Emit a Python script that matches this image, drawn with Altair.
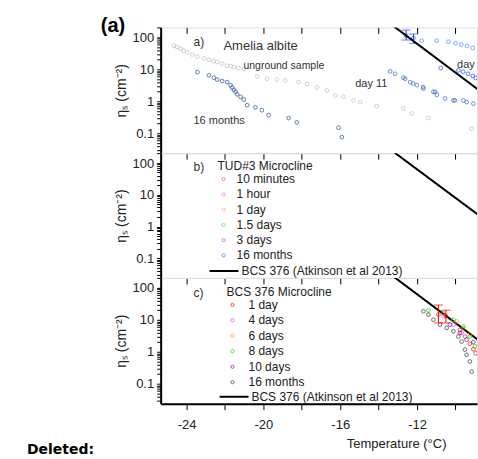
import altair as alt
import pandas as pd

FONT = "Liberation Sans"
X_DOMAIN = [-25.35, -8.88]
Y_DOMAIN = [0.024, 205]
X_TICKS = [-24, -22, -20, -18, -16, -14, -12, -10]
Y_TICKS = [0.03, 0.04, 0.05, 0.06, 0.07, 0.08, 0.09, 0.1,
           0.2, 0.3, 0.4, 0.5, 0.6, 0.7, 0.8, 0.9, 1,
           2, 3, 4, 5, 6, 7, 8, 9, 10,
           20, 30, 40, 50, 60, 70, 80, 90, 100, 200]
Y_LABELS = ["0.1", "1", "10", "100"]

# ---------------- panel a : Amelia albite ----------------
A_UNG_T = [-24.66, -24.5, -24.31, -24.15, -23.97, -23.7, -23.44, -23.1, -22.84, -22.6,
           -22.41, -22.15, -21.89, -21.7, -21.54, -21.3, -21.02, -20.33, -19.81, -19.3,
           -18.86, -18.17, -17.73, -17.21, -16.69, -16.26, -15.83, -15.31, -14.96, -14.10,
           -12.71, -12.28, -11.41, -9.16]
A_UNG_NS = [55, 50, 44, 38, 34, 29, 25, 22, 20, 18,
            17, 15, 13, 12.5, 11.7, 11, 10.4, 6.0, 5.1, 4.8,
            4.5, 4.0, 3.5, 2.7, 2.2, 1.5, 1.4, 1.07, 0.95, 0.71,
            0.60, 0.42, 0.30, 0.14]
A_16M_T = [-23.44, -22.84, -22.58, -22.41, -22.15, -21.89, -21.71, -21.63, -21.54, -21.45,
           -21.37, -21.19, -21.02, -20.85, -20.42, -20.08, -19.73, -18.69, -18.26, -16.09, -15.92]
A_16M_NS = [8.2, 6.5, 5.5, 4.8, 4.3, 4.0, 3.2, 2.7, 2.3, 2.0,
            1.66, 1.38, 1.14, 0.76, 0.65, 0.53, 0.37, 0.30, 0.22, 0.15, 0.076]
A_D11_T = [-13.40, -13.14, -12.71, -12.62, -12.36, -12.2, -12.01, -11.69, -11.67, -11.15,
           -11.06, -10.97, -10.54, -10.11, -10.03, -9.59, -9.42, -9.07]
A_D11_NS = [8.7, 7.3, 5.5, 5.1, 4.0, 3.6, 3.2, 2.8, 2.5, 2.0,
            1.96, 1.6, 1.23, 1.07, 1.07, 1.07, 0.95, 0.85]
A_D1_T = [-11.76, -10.98, -10.37, -10.0, -9.7, -9.4, -9.1]
A_D1_NS = [79, 79, 73, 66, 60, 54, 47]
A_ERR_T = [-12.57, -12.19]
A_ERR_NS = [113, 96]
A_ERR_LO = [83, 65]
A_ERR_HI = [170, 127]
A_D3_T = [-10.77, -9.85, -9.6, -9.35, -9.1, -8.95]
A_D3_NS = [11, 9.3, 8.5, 7.3, 6.2, 5.4]
A_TXT = ["a)", "Amelia albite", "unground sample", "day 11", "16 months", "day 1"]
A_TXT_T = [-23.64, -22.08, -21.04, -15.22, -23.64, -9.92]
A_TXT_NS = [73, 55, 12.3, 3.4, 0.24, 14]
A_TXT_FS = [12, 13, 10.5, 11, 11, 11]

# ---------------- reference line (BCS 376, Atkinson et al 2013) ----------------
REF_T = [-13.4, -8.8]
REF_NS = [270, 2.3]
REF_LABEL = "BCS 376 (Atkinson et al 2013)"

# ---------------- panel b : TUD#3 Microcline ----------------
B_SERIES = ["10 minutes", "1 hour", "1 day", "1.5  days", "3 days", "16 months"]
B_COLORS = ["#ff5a5a", "#ff5aff", "#ffaa55", "#55dd55", "#aa55aa", "#5a5aff"]

# ---------------- panel c : BCS 376 Microcline ----------------
C_SERIES = ["1 day", "4 days", "6 days", "8 days", "10 days", "16 months"]
C_COLORS = ["#ff0000", "#ff33ff", "#ff8c1a", "#00dd00", "#8000a0", "#333333"]
C_1D_T = [-10.89, -10.5, -9.77, -9.5, -9.25, -9.07, -8.95]
C_1D_NS = [14.6, 13, 4.8, 3.0, 1.8, 1.2, 0.9]
C_4D_T = [-10.63, -10.11, -9.68]
C_4D_NS = [13, 7.1, 3.9]
C_6D_T = [-9.94, -9.59, -9.25]
C_6D_NS = [8.9, 6.3, 3.5]
C_8D_T = [-11.41, -10.63, -10.11, -9.59, -9.25, -8.99]
C_8D_NS = [20, 16, 10, 5.6, 3.0, 1.5]
C_10D_T = [-10.29, -9.77, -9.42, -9.07]
C_10D_NS = [7.1, 3.9, 2.4, 2.0]
C_16M_T = [-11.67, -11.41, -11.15, -10.81, -10.46, -10.11, -9.85, -9.68, -9.51, -9.42, -9.25, -9.16]
C_16M_NS = [18.5, 14.6, 10.1, 7.1, 5.6, 4.4, 3.0, 2.1, 1.17, 0.81, 0.50, 0.24]
C_ERR_T = [-10.89, -10.5]
C_ERR_LO = [8, 8]
C_ERR_HI = [29, 20]

# ---------------- scales / axes ----------------
xs = alt.Scale(domain=X_DOMAIN, nice=False, zero=False)
ys = alt.Scale(type="log", domain=Y_DOMAIN, nice=False)

yaxis = alt.Axis(
    values=Y_TICKS,
    labelExpr="indexof(" + str(Y_LABELS) + ", '' + datum.value) >= 0 ? '' + datum.value : ''",
    labelOverlap=False, tickSize=4, tickWidth=1, tickColor="black",
    domainColor="black", domainWidth=2, labelFontSize=13, labelPadding=3,
    labelFont=FONT, labelColor="#222",
    title="ηₛ (cm⁻²)", titleFont=FONT, titleFontSize=14, titleFontWeight="normal",
    titleColor="#222", titlePadding=4, grid=False,
)
top_axis = alt.Axis(orient="top", values=X_TICKS, offset=-6, tickSize=6, tickColor="black",
                    labels=False, domain=False, title=None, grid=False)
bot_ticks = alt.Axis(orient="bottom", values=X_TICKS, tickSize=6, tickColor="black",
                     labels=False, domain=False, title=None, grid=False)
bot_full = alt.Axis(orient="bottom", values=X_TICKS, tickSize=6, tickColor="black",
                    labelExpr="datum.value % 4 == 0 ? '' + datum.value : ''",
                    labelOverlap=False, labelFont=FONT, labelFontSize=13, labelPadding=9,
                    labelColor="#222", domain=True, domainColor="black", domainWidth=2,
                    title="Temperature (°C)", titleFont=FONT, titleFontSize=13,
                    titleFontWeight="normal", titleColor="#222", titleX=236, titlePadding=6,
                    grid=False)


def X(axis):
    return alt.X("T:Q", scale=xs, axis=axis)


def Y(field="ns"):
    return alt.Y(field + ":Q", scale=ys, axis=yaxis)


def pts(T, ns, color, axis=None, size=14):
    df = pd.DataFrame({"T": T, "ns": ns})
    return alt.Chart(df).mark_point(filled=False, size=size, strokeWidth=1, clip=True,
                                    color=color).encode(x=X(axis), y=Y())


def errbars(T, lo, hi, color, axis=None):
    df = pd.DataFrame({"T": T, "lo": lo, "hi": hi})
    base = alt.Chart(df)
    rule = base.mark_rule(color=color, strokeWidth=1, clip=True).encode(
        x=X(axis), y=Y("lo"), y2="hi:Q")
    t1 = base.mark_tick(color=color, orient="horizontal", size=9, thickness=1, clip=True).encode(
        x=X(axis), y=Y("lo"))
    t2 = base.mark_tick(color=color, orient="horizontal", size=9, thickness=1, clip=True).encode(
        x=X(axis), y=Y("hi"))
    return [rule, t1, t2]


def ref_line(axis, legend):
    df = pd.DataFrame({"T": REF_T, "ns": REF_NS, "ref": [REF_LABEL] * len(REF_T)})
    enc = dict(x=X(axis), y=Y(), color=alt.value("black"))
    if legend is not None:
        enc["strokeDash"] = alt.StrokeDash("ref:N", scale=alt.Scale(domain=[REF_LABEL], range=[[1, 0]]),
                                           legend=legend)
    return alt.Chart(df).mark_line(strokeWidth=2, clip=True).encode(**enc)


def line_legend(lx, ly):
    return alt.Legend(orient="none", legendX=lx, legendY=ly, title=None, symbolType="stroke",
                      symbolSize=841, symbolStrokeWidth=2, symbolStrokeColor="black",
                      labelFont=FONT, labelFontSize=12, labelColor="#222", labelOffset=2,
                      labelLimit=400, padding=0)


def color_legend(title, lx, ly, label_offset, title_pad, row_pad):
    return alt.Legend(orient="none", legendX=lx, legendY=ly, title=title, titleFont=FONT,
                      titleFontSize=12, titleFontWeight="normal", titleColor="#222",
                      titlePadding=title_pad, titleLimit=400, labelFont=FONT, labelFontSize=12,
                      labelColor="#222", labelLimit=400,
                      labelOffset=label_offset, rowPadding=row_pad, symbolSize=10,
                      symbolType="circle", symbolStrokeWidth=1, padding=0)


def texts(labels, T, ns, fs, axis=None, color="#333"):
    df = pd.DataFrame({"T": T, "ns": ns, "label": labels, "fs": fs})
    return alt.Chart(df).mark_text(font=FONT, align="left", baseline="middle", color=color,
                                   clip=True).encode(
        x=X(axis), y=Y(), text="label:N", size=alt.Size("fs:Q", scale=None, legend=None))


# ---------------- panel a ----------------
corner = alt.Chart(pd.DataFrame({"label": ["(a)"]})).mark_text(
    font=FONT, fontSize=20, fontWeight="bold", align="left", baseline="alphabetic",
    color="black").encode(x=alt.value(-60), y=alt.value(5), text="label:N")

panel_a = alt.layer(
    pts(A_UNG_T, A_UNG_NS, "#bdbdbd", axis=top_axis),
    pts(A_16M_T, A_16M_NS, "#1b4a8c", axis=bot_ticks),
    pts(A_D11_T, A_D11_NS, "#2a62b8"),
    pts(A_D1_T, A_D1_NS, "#3b8cff"),
    pts(A_D3_T, A_D3_NS, "#1f3cff"),
    pts(A_ERR_T, A_ERR_NS, "#2a40ee"),
    *errbars(A_ERR_T, A_ERR_LO, A_ERR_HI, "#2a40ee"),
    ref_line(None, None),
    texts(A_TXT, A_TXT_T, A_TXT_NS, A_TXT_FS),
    corner,
).resolve_axis(x="independent").properties(width=317, height=126)

# ---------------- panel b ----------------
empty_b = alt.Chart(alt.InlineData(values=[])).mark_point(filled=False, size=10, clip=True).encode(
    x=X(bot_ticks), y=Y(),
    color=alt.Color("series:N", scale=alt.Scale(domain=B_SERIES, range=B_COLORS),
                    legend=color_legend("TUD#3 Microcline", 57, 8, 7, 0, 3.3)))

panel_b = alt.layer(
    ref_line(bot_ticks, line_legend(48, 102.5)),
    empty_b,
    texts(["b)"], [-23.64], [74], [12], axis=bot_ticks),
).properties(width=317, height=125)

# ---------------- panel c ----------------
c_T = C_1D_T + C_4D_T + C_6D_T + C_8D_T + C_10D_T + C_16M_T
c_NS = C_1D_NS + C_4D_NS + C_6D_NS + C_8D_NS + C_10D_NS + C_16M_NS
c_S = ([C_SERIES[0]] * len(C_1D_T) + [C_SERIES[1]] * len(C_4D_T) + [C_SERIES[2]] * len(C_6D_T)
       + [C_SERIES[3]] * len(C_8D_T) + [C_SERIES[4]] * len(C_10D_T) + [C_SERIES[5]] * len(C_16M_T))
c_df = pd.DataFrame({"T": c_T, "ns": c_NS, "series": c_S})

pts_c = alt.Chart(c_df).mark_point(filled=False, size=14, strokeWidth=1, clip=True).encode(
    x=X(bot_full), y=Y(),
    color=alt.Color("series:N", scale=alt.Scale(domain=C_SERIES, range=C_COLORS),
                    legend=color_legend("BCS 376 Microcline", 66, 9, 10, 0, 3.5)))

deleted = alt.Chart(pd.DataFrame({"label": ["Deleted:"]})).mark_text(
    font="DejaVu Sans", fontSize=14, fontWeight="bold", align="left", baseline="alphabetic",
    color="black").encode(x=alt.value(-134), y=alt.value(176), text="label:N")

panel_c = alt.layer(
    ref_line(bot_full, line_legend(58, 103.5)),
    pts_c,
    *errbars(C_ERR_T, C_ERR_LO, C_ERR_HI, "#ff0000", axis=bot_full),
    texts(["c)"], [-23.64], [70], [12], axis=bot_full),
    deleted,
).properties(width=317, height=126)

chart = alt.vconcat(panel_a, panel_b, panel_c, spacing=0, bounds="flush").resolve_scale(
    color="independent", strokeDash="independent"
).properties(
    padding={"left": 26, "top": 15, "right": 0, "bottom": 0}
).configure_view(stroke="black", strokeWidth=2).configure(background="white")

chart.save("out.html", embed_options={"renderer": "svg", "actions": False})
